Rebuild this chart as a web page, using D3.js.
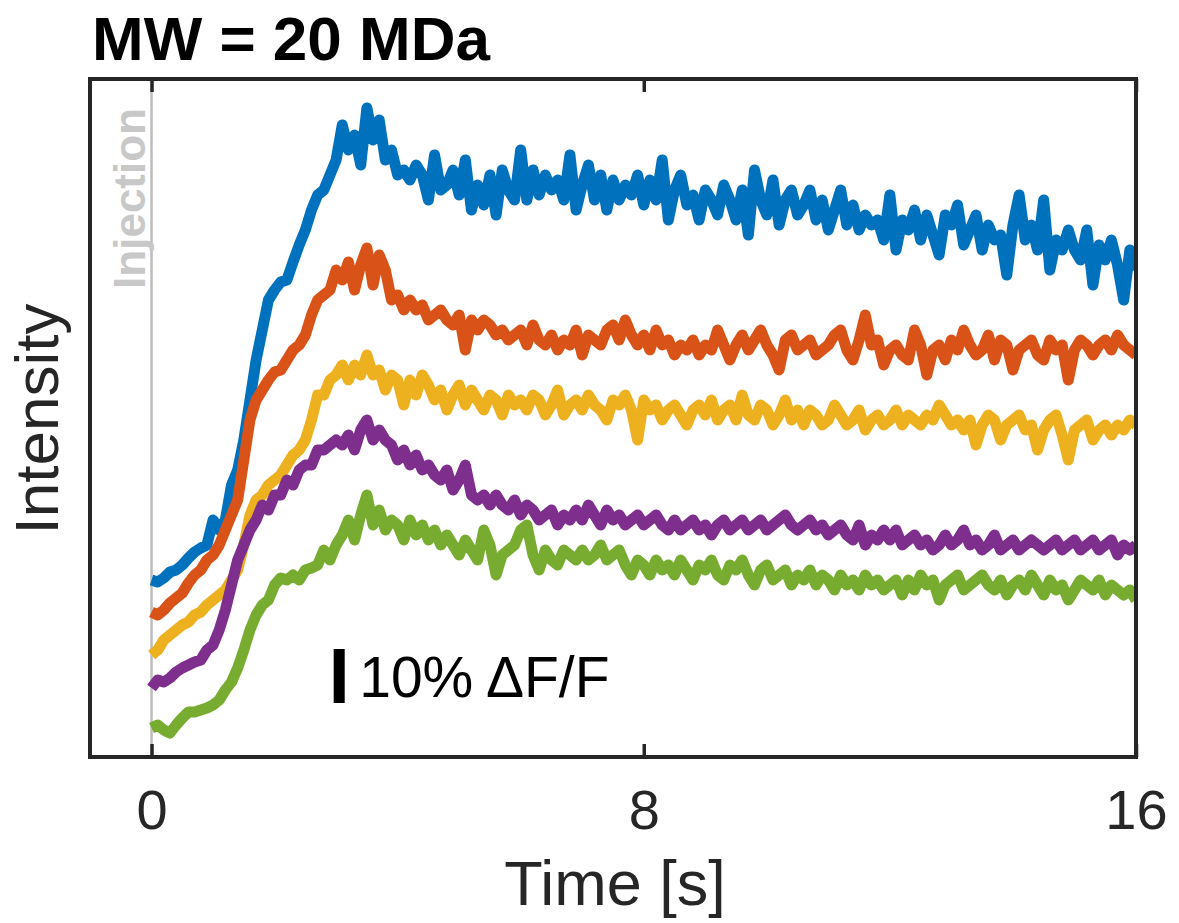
<!DOCTYPE html>
<html>
<head>
<meta charset="utf-8">
<script src="https://cdn.jsdelivr.net/npm/d3@7"></script>
<style>
  html, body { margin: 0; padding: 0; background: #fff; }
  svg { display: block; }
  text { font-family: "Liberation Sans", Arial, Helvetica, sans-serif; }
</style>
</head>
<body>
<svg id="chart" width="1179" height="923"></svg>
<script>
// ---------------- DATA ----------------
// Sampling: one value every 0.1 s from 0 to 16 s (161 samples per trace)
const sampleStep = 0.1;
const sampleCount = 161;

// Intensity in arbitrary units (54 a.u. = 10 % dF/F)
const blue = [177,175,179,185,187,192,199,205,209,212,237,227,237,272,287,317,357,397,427,457,
467,475,477,495,512,527,547,562,567,582,597,632,607,622,592,649,617,637,597,607,
582,587,577,592,582,557,602,567,572,587,562,597,547,572,552,582,542,587,567,557,
607,557,587,562,582,567,577,557,602,547,572,592,557,582,547,577,557,572,562,582,
552,577,557,597,537,567,582,552,562,537,567,557,542,572,557,537,567,522,587,557,
542,577,532,557,567,542,552,567,537,557,527,547,567,532,552,527,542,532,537,517,
562,507,537,527,547,517,542,522,502,542,532,552,512,527,542,507,532,517,522,482,
532,562,517,532,507,557,487,517,507,527,507,497,527,472,512,497,517,492,457,507,487];

const orange = [145,142,147,154,159,164,174,182,187,197,202,212,227,242,257,297,337,357,367,377,
385,387,397,407,412,422,442,457,462,467,487,477,495,467,492,509,472,502,487,457,
462,447,457,447,452,437,442,447,437,432,442,407,437,427,437,432,422,427,417,422,
427,412,432,417,412,422,407,417,412,427,402,422,417,412,427,432,417,437,422,412,
422,407,427,412,417,402,412,407,417,402,412,407,427,412,397,412,422,407,417,427,
412,402,387,417,422,407,412,417,402,407,412,422,427,407,397,417,442,412,417,392,
407,412,402,397,427,412,382,407,412,397,417,407,427,412,402,407,422,397,417,412,
387,407,412,417,402,397,417,407,412,377,407,417,412,402,412,417,407,422,412,407,402];

const yellow = [102,107,117,122,127,132,135,142,145,152,157,162,167,177,187,212,242,257,262,272,
277,282,292,302,307,317,337,362,362,377,382,392,377,392,382,402,382,387,367,382,
377,352,377,362,382,372,357,367,347,362,372,352,367,357,347,362,357,342,362,352,
357,347,362,357,342,352,367,342,352,357,347,362,352,347,337,357,352,362,347,317,
357,347,352,337,347,352,342,332,347,352,342,357,337,347,352,337,362,342,337,352,
347,332,342,357,337,347,332,347,342,332,337,352,342,332,337,347,327,337,342,332,
337,347,332,342,337,332,342,337,352,342,332,337,327,337,312,332,342,337,317,332,
337,342,327,332,307,327,337,342,322,297,327,332,337,317,327,332,322,332,327,337,332];

const purple = [69,77,75,79,85,89,92,95,97,107,112,127,147,172,197,212,227,237,252,247,
262,262,277,272,287,292,292,307,307,312,317,312,322,307,327,337,317,327,317,312,
297,307,292,302,287,292,282,277,287,267,277,292,262,257,262,252,262,252,247,257,
242,252,247,237,242,247,232,242,237,247,237,252,242,232,247,237,242,232,237,242,
232,237,242,232,227,237,227,232,237,227,232,222,232,237,227,232,237,227,232,237,
227,232,237,242,232,227,232,237,227,232,222,227,232,222,217,232,212,222,217,227,
217,227,212,217,222,212,217,207,212,222,212,217,227,212,217,207,212,222,207,212,
217,207,212,217,212,207,212,217,207,212,217,207,212,217,207,212,217,202,212,207,212];

const green = [29,32,27,24,32,39,45,45,47,49,52,57,67,75,89,107,127,142,152,157,
172,179,177,182,177,187,189,192,207,197,212,222,237,217,242,262,232,247,227,237,
232,217,237,222,232,217,227,212,222,212,202,217,207,197,227,212,182,202,207,212,
227,232,202,187,207,197,192,207,202,197,207,197,202,212,197,202,207,192,182,197,
192,182,197,187,192,182,197,187,177,192,187,197,182,177,192,187,197,182,172,187,
192,177,182,187,172,182,177,187,172,182,177,167,182,172,177,167,182,172,177,167,
172,177,162,177,167,182,172,177,157,172,177,182,167,172,177,182,172,167,177,162,
172,177,167,182,172,162,177,167,172,157,167,177,172,167,177,162,172,167,162,167,157];

const seriesNames = ["blue", "orange", "yellow", "purple", "green"];
const seriesValues = [blue, orange, yellow, purple, green];
const seriesColors = ["#0072BD", "#D95319", "#EDB120", "#7E2F8E", "#77AC30"];

const xTicks = [0, 8, 16];
const xDomain = [-1, 16];
const yDomain = [0, 678];
const injectionTime = 0;
const scaleBarTime = 3.05;
const scaleBarBase = 54;      // a.u. at bottom of bar
const scaleBarSize = 54;      // a.u. == 10 % dF/F
const scaleBarLabel = "10% \u0394F/F";
const titleText = "MW = 20 MDa";
const xLabel = "Time [s]";
const yLabel = "Intensity";
const injectionLabel = "Injection";

// ---------------- CHART ----------------
const svg = d3.select("#chart");
const plot = { left: 90, right: 1136, top: 79, bottom: 757 };
const x = d3.scaleLinear().domain(xDomain).range([plot.left, plot.right]);
const y = d3.scaleLinear().domain(yDomain).range([plot.bottom, plot.top]);

const times = d3.range(sampleCount).map(i => +(i * sampleStep).toFixed(2));

svg.append("defs").append("clipPath").attr("id", "clip")
  .append("rect")
  .attr("x", plot.left).attr("y", plot.top)
  .attr("width", plot.right - plot.left).attr("height", plot.bottom - plot.top);

// injection line
svg.append("line")
  .attr("x1", x(injectionTime)).attr("x2", x(injectionTime))
  .attr("y1", plot.top).attr("y2", plot.bottom)
  .attr("stroke", "#bdbdbd").attr("stroke-width", 2.5);

svg.append("text")
  .attr("transform", `translate(${x(injectionTime) - 7},${plot.top + 29}) rotate(-90)`)
  .attr("text-anchor", "end")
  .attr("font-size", 44).attr("font-weight", "bold")
  .attr("fill", "#c8c8c8")
  .text(injectionLabel);

// traces
const line = d3.line().x((d, i) => x(times[i])).y(d => y(d));
const g = svg.append("g").attr("clip-path", "url(#clip)");
seriesValues.forEach((vals, k) => {
  g.append("path")
    .datum(vals)
    .attr("d", line)
    .attr("fill", "none")
    .attr("stroke", seriesColors[k])
    .attr("stroke-width", 11)
    .attr("stroke-linejoin", "round")
    .attr("stroke-linecap", "butt");
});

// scale bar
svg.append("rect")
  .attr("x", x(scaleBarTime) - 5.5).attr("width", 11)
  .attr("y", y(scaleBarBase + scaleBarSize))
  .attr("height", y(scaleBarBase) - y(scaleBarBase + scaleBarSize))
  .attr("fill", "#000");
svg.append("text")
  .attr("x", x(scaleBarTime) + 20).attr("y", y(scaleBarBase) - 6)
  .attr("font-size", 57).attr("fill", "#000")
  .text(scaleBarLabel);

// axes box
const frameColor = "#262626";
const xAxisBottom = d3.axisBottom(x).tickValues(xTicks).tickFormat(d3.format("d"))
  .tickSizeInner(-13).tickSizeOuter(0).tickPadding(32);
const gxb = svg.append("g").attr("transform", `translate(0,${plot.bottom})`).call(xAxisBottom);
gxb.select(".domain").remove();
gxb.selectAll(".tick line").attr("stroke", frameColor).attr("stroke-width", 3.5);
gxb.selectAll(".tick text").attr("font-size", 56).attr("fill", frameColor)
  .attr("font-family", "'Liberation Sans', Arial, sans-serif");

const xAxisTop = d3.axisTop(x).tickValues(xTicks).tickFormat("")
  .tickSizeInner(-13).tickSizeOuter(0);
const gxt = svg.append("g").attr("transform", `translate(0,${plot.top})`).call(xAxisTop);
gxt.select(".domain").remove();
gxt.selectAll(".tick line").attr("stroke", frameColor).attr("stroke-width", 3.5);

svg.append("rect")
  .attr("x", plot.left).attr("y", plot.top)
  .attr("width", plot.right - plot.left).attr("height", plot.bottom - plot.top)
  .attr("fill", "none").attr("stroke", frameColor).attr("stroke-width", 4);

// labels
svg.append("text")
  .attr("x", (plot.left + plot.right) / 2 + 2).attr("y", 905)
  .attr("text-anchor", "middle").attr("font-size", 63).attr("fill", frameColor)
  .text(xLabel);

svg.append("text")
  .attr("transform", `translate(58,${(plot.top + plot.bottom) / 2 + 1}) rotate(-90)`)
  .attr("text-anchor", "middle").attr("font-size", 62).attr("fill", frameColor)
  .text(yLabel);

svg.append("text")
  .attr("x", 92).attr("y", 60)
  .attr("font-size", 62).attr("font-weight", "bold").attr("fill", "#000")
  .text(titleText);
</script>
</body>
</html>
